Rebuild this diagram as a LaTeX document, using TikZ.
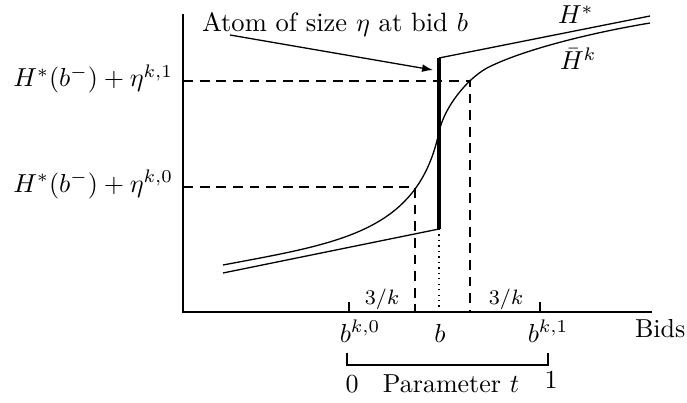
\documentclass[tikz,border=0pt]{standalone}
\usepackage{amsmath}
\usetikzlibrary{arrows.meta}
\begin{document}
\begin{tikzpicture}[x=0.3846pt,y=-0.3846pt,
  thinline/.style={line width=0.5pt},
  atomline/.style={line width=1.3pt},
  guide/.style={line width=0.5pt,dash pattern=on 3.8pt off 2.6pt},
  dotguide/.style={line width=0.5pt,dash pattern=on 0.5pt off 1.6pt},
  lbl/.style={inner sep=0pt,outer sep=0pt},
  small/.style={inner sep=0pt,font=\footnotesize}]
\useasboundingbox (0,0) rectangle (687,402);
% axes
\coordinate (ytop) at (183,14);
\coordinate (O) at (183,312);
\coordinate (xend) at (652,312);
\draw[thinline] (ytop) -- (O) -- (xend);
% H^* pieces
\coordinate (hlL) at (223,273);
\coordinate (bl) at (439,229);
\coordinate (bu) at (439,58);
\coordinate (huR) at (650,16);
\draw[thinline] (hlL) -- (bl);
\draw[atomline] (bl) -- (bu);
\draw[thinline] (bu) -- (huR);
% bar H^k
\coordinate (hbL) at (223,265);
\coordinate (hbM) at (439,132);
\coordinate (hbQ) at (487,68);
\coordinate (hbR) at (650,23);
\draw[thinline] (hbL) .. controls (340,243) and (418,232) .. (hbM)
                      .. controls (444.25,107) and (467,79) .. (hbQ)
                      .. controls (522,50) and (590,33) .. (hbR);
% dashed guides
\coordinate (y1) at (183,81);
\coordinate (p1) at (470,81);
\coordinate (x1) at (470,312);
\coordinate (y0) at (183,187);
\coordinate (p0) at (415,187);
\coordinate (x0) at (415,312);
\draw[guide] (y1) -- (p1) -- (x1);
\draw[guide] (y0) -- (p0) -- (x0);
\coordinate (bx) at (439,312);
\draw[dotguide] (bl) -- (bx);
% ticks
\coordinate (t0) at (349,312);
\coordinate (t0u) at (349,302);
\coordinate (t1) at (540,312);
\coordinate (t1u) at (540,302);
\draw[thinline] (t0) -- (t0u);
\draw[thinline] (t1) -- (t1u);
% labels
\node[lbl,anchor=base west,font=\fontsize{10.2pt}{12.5pt}\selectfont] (atom) at (202,32) {Atom of size $\eta$ at bid $b$};
\coordinate (atomtail) at (230,35);
\coordinate (atomtip) at (433,70);
\draw[thinline,-{Latex[length=4.2pt,width=3pt]}] (atomtail) -- (atomtip);
\node[lbl,anchor=base west] (Hs) at (558,24) {$H^*$};
\node[lbl,anchor=base west] (Hb) at (560,70) {$\bar{H}^k$};
\node[lbl,anchor=base east] (l1) at (173,87) {$H^*(b^-)+\eta^{k,1}$};
\node[lbl,anchor=base east] (l0) at (173,192) {$H^*(b^-)+\eta^{k,0}$};
\node[small,anchor=base] (d0) at (382,304) {$3/k$};
\node[small,anchor=base] (d1) at (506,304) {$3/k$};
\node[lbl,anchor=base] (bk0) at (360,342) {$b^{k,0}$};
\node[lbl,anchor=base] (bb) at (440,342) {$b$};
\node[lbl,anchor=base] (bk1) at (548,342) {$b^{k,1}$};
\node[lbl,anchor=base west] (bids) at (635,337) {Bids};
% parameter bracket
\coordinate (br0) at (347,353);
\coordinate (br0b) at (347,365);
\coordinate (br1b) at (548,365);
\coordinate (br1) at (548,353);
\draw[thinline] (br0) -- (br0b) -- (br1b) -- (br1);
\node[lbl,anchor=base] (z) at (352,392) {$0$};
\node[lbl,anchor=base] (par) at (451,392) {Parameter $t$};
\node[lbl,anchor=base] (one) at (551,388) {$1$};
\end{tikzpicture}
\end{document}
